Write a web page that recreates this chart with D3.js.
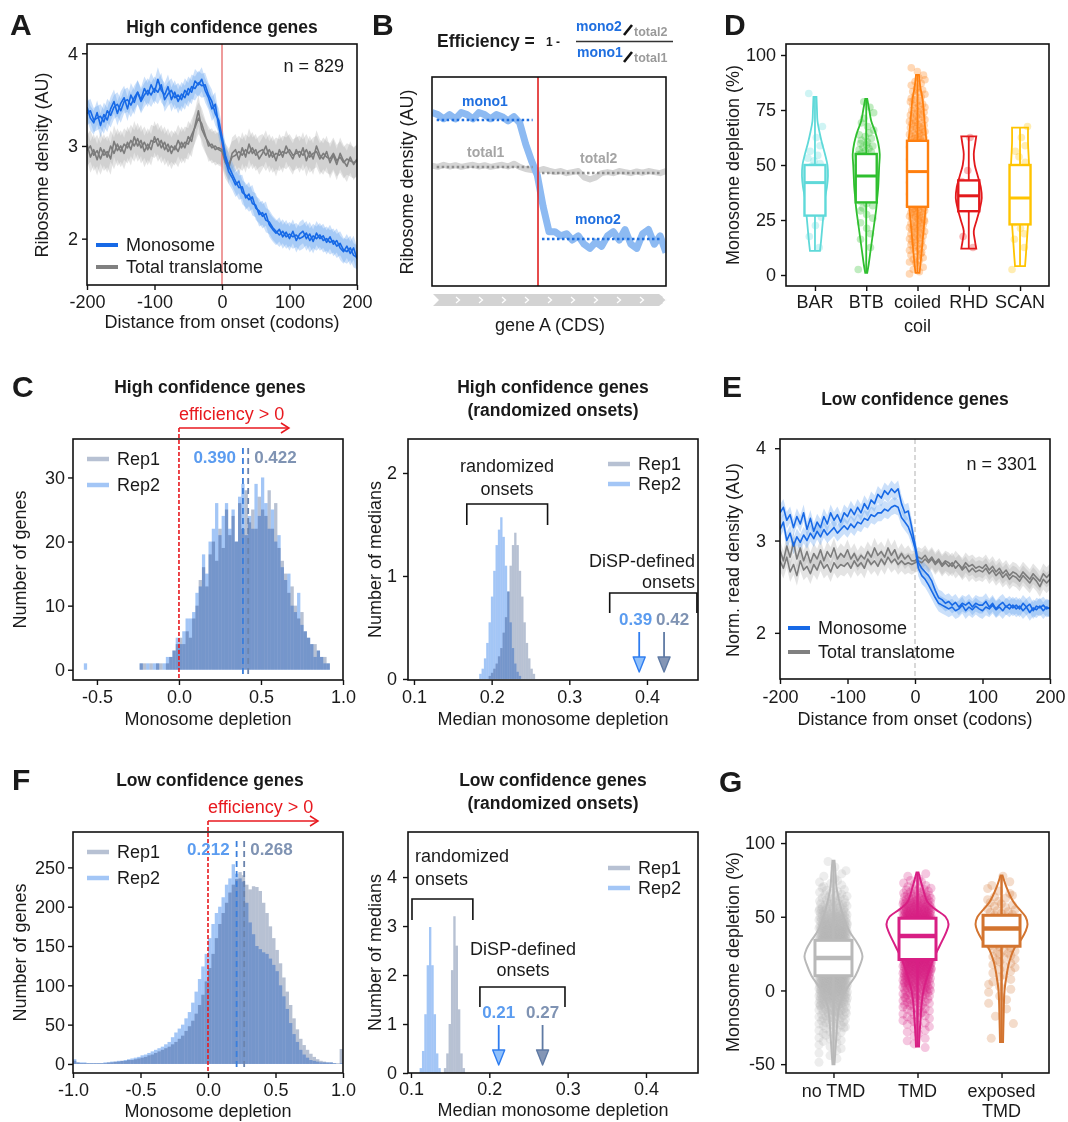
<!DOCTYPE html>
<html>
<head>
<meta charset="utf-8">
<script src="https://cdnjs.cloudflare.com/ajax/libs/d3/7.8.5/d3.min.js"></script>
<style>
  body { margin: 0; background: #fff; }
  svg text { font-family: "Liberation Sans", Arial, sans-serif; }
</style>
</head>
<body>
<svg id="fig" width="1068" height="1122"></svg>
<script>
// ---------------- data ----------------
const codons = d3.range(-200, 201, 5);

// A: high confidence profiles (two replicates each)
const monoA1 = [3.42, 3.30, 3.25, 3.36, 3.22, 3.34, 3.28, 3.40, 3.48, 3.35,
                3.46, 3.52, 3.40, 3.55, 3.47, 3.58, 3.50, 3.62, 3.55, 3.66,
                3.58, 3.72, 3.60, 3.55, 3.64, 3.50, 3.58, 3.48, 3.56, 3.52,
                3.62, 3.58, 3.70, 3.66, 3.72, 3.60, 3.52, 3.40, 3.45, 3.22,
                3.05, 2.85, 2.72, 2.66, 2.58, 2.62, 2.50, 2.47, 2.42, 2.45,
                2.33, 2.30, 2.24, 2.27, 2.15, 2.10, 2.06, 2.10, 2.02, 2.07,
                2.00, 2.08, 1.98, 2.05, 2.08, 2.00, 2.05, 1.97, 2.06, 2.00,
                2.03, 1.96, 2.02, 1.94, 1.98, 1.90, 1.86, 1.92, 1.84, 1.90,
                1.78];
const monoA2 = [3.35, 3.38, 3.28, 3.30, 3.32, 3.26, 3.38, 3.33, 3.42, 3.45,
                3.38, 3.48, 3.50, 3.44, 3.52, 3.58, 3.48, 3.55, 3.60, 3.55,
                3.62, 3.58, 3.66, 3.50, 3.56, 3.60, 3.52, 3.55, 3.50, 3.60,
                3.55, 3.64, 3.62, 3.68, 3.65, 3.66, 3.55, 3.48, 3.35, 3.28,
                3.10, 2.90, 2.78, 2.70, 2.62, 2.55, 2.56, 2.44, 2.48, 2.38,
                2.36, 2.26, 2.28, 2.20, 2.18, 2.12, 2.08, 2.04, 2.08, 2.02,
                2.05, 2.02, 2.04, 2.00, 2.02, 2.06, 1.98, 2.03, 2.00, 2.04,
                1.98, 2.00, 1.96, 1.98, 1.92, 1.95, 1.88, 1.86, 1.90, 1.82,
                1.80];
const totA1 = [3.02, 2.88, 2.96, 2.85, 2.98, 2.90, 2.94, 2.86, 3.05, 2.95,
               3.00, 2.92, 3.04, 2.96, 3.10, 3.00, 3.06, 2.94, 3.02, 2.96,
               3.10, 3.00, 3.06, 2.96, 3.02, 2.92, 3.00, 2.94, 3.04, 2.98,
               3.10, 3.05, 3.22, 3.38, 3.18, 3.10, 3.04, 2.98, 3.00, 2.96,
               2.94, 2.82, 2.76, 2.92, 2.96, 2.85, 2.98, 2.88, 3.02, 2.92,
               2.96, 2.86, 2.92, 3.00, 2.88, 2.94, 2.84, 2.96, 2.88, 3.00,
               2.92, 2.86, 2.96, 2.88, 2.98, 2.84, 2.94, 2.86, 3.00, 2.90,
               2.86, 2.94, 2.82, 2.90, 2.80, 2.92, 2.84, 2.78, 2.88, 2.80,
               2.86];
const totA2 = [2.95, 3.00, 2.90, 2.95, 2.86, 2.96, 2.88, 3.00, 2.92, 3.02,
               2.94, 3.02, 2.98, 3.06, 3.00, 3.08, 2.98, 3.04, 2.96, 3.06,
               3.04, 3.08, 2.98, 3.04, 2.94, 3.00, 2.96, 3.06, 2.98, 3.04,
               3.02, 3.12, 3.20, 3.30, 3.24, 3.12, 3.00, 3.02, 2.96, 2.98,
               2.96, 2.86, 2.80, 2.88, 2.90, 2.94, 2.90, 2.96, 2.92, 2.98,
               2.90, 2.94, 2.96, 2.90, 2.96, 2.88, 2.92, 2.90, 2.94, 2.92,
               2.96, 2.90, 2.92, 2.94, 2.90, 2.96, 2.88, 2.92, 2.94, 2.86,
               2.92, 2.88, 2.86, 2.92, 2.84, 2.88, 2.82, 2.86, 2.84, 2.82,
               2.84];
const semMonoA = 0.13, semTotA = 0.17;

// E: low confidence profiles
const monoE1 = [3.30, 3.36, 3.22, 3.28, 3.14, 3.26, 3.18, 3.30, 3.12, 3.24,
                3.10, 3.20, 3.14, 3.26, 3.18, 3.30, 3.22, 3.28, 3.20, 3.30,
                3.26, 3.34, 3.28, 3.36, 3.30, 3.40, 3.34, 3.44, 3.40, 3.50,
                3.46, 3.54, 3.50, 3.56, 3.52, 3.56, 3.40, 3.30, 3.32, 3.15,
                2.96, 2.76, 2.70, 2.66, 2.62, 2.56, 2.46, 2.38, 2.36, 2.32,
                2.34, 2.30, 2.33, 2.28, 2.32, 2.30, 2.33, 2.28, 2.32, 2.30,
                2.30, 2.34, 2.28, 2.32, 2.26, 2.30, 2.33, 2.28, 2.31, 2.27,
                2.30, 2.26, 2.32, 2.28, 2.31, 2.24, 2.29, 2.27, 2.30, 2.26,
                2.27];
const monoE2 = [3.12, 3.20, 3.00, 3.08, 2.94, 3.04, 2.98, 3.06, 3.00, 3.08,
                3.02, 3.10, 3.04, 3.12, 3.06, 3.10, 3.14, 3.08, 3.12, 3.16,
                3.12, 3.18, 3.14, 3.20, 3.18, 3.24, 3.22, 3.28, 3.26, 3.30,
                3.30, 3.34, 3.32, 3.36, 3.38, 3.36, 3.25, 3.20, 3.15, 3.05,
                2.92, 2.70, 2.62, 2.58, 2.52, 2.45, 2.38, 2.32, 2.30, 2.28,
                2.26, 2.28, 2.24, 2.26, 2.30, 2.24, 2.28, 2.25, 2.29, 2.26,
                2.24, 2.28, 2.26, 2.30, 2.25, 2.28, 2.24, 2.29, 2.26, 2.30,
                2.26, 2.29, 2.24, 2.28, 2.22, 2.27, 2.25, 2.29, 2.24, 2.28,
                2.26];
const totE1 = [2.90, 2.78, 2.94, 2.82, 2.98, 2.80, 2.92, 2.78, 2.88, 2.76,
               2.86, 2.80, 2.90, 2.78, 2.88, 2.82, 2.92, 2.80, 2.86, 2.82,
               2.90, 2.80, 2.86, 2.78, 2.84, 2.80, 2.88, 2.82, 2.92, 2.84,
               2.88, 2.82, 2.92, 2.84, 2.90, 2.80, 2.86, 2.80, 2.84, 2.78,
               2.78, 2.82, 2.80, 2.84, 2.78, 2.82, 2.76, 2.80, 2.74, 2.78,
               2.76, 2.72, 2.78, 2.74, 2.70, 2.76, 2.72, 2.74, 2.70, 2.72,
               2.70, 2.74, 2.68, 2.72, 2.66, 2.70, 2.64, 2.68, 2.62, 2.66,
               2.64, 2.60, 2.66, 2.62, 2.58, 2.64, 2.60, 2.56, 2.64, 2.60,
               2.64];
const totE2 = [2.78, 2.70, 2.82, 2.66, 2.74, 2.62, 2.78, 2.68, 2.72, 2.64,
               2.74, 2.68, 2.78, 2.70, 2.74, 2.66, 2.76, 2.70, 2.74, 2.72,
               2.76, 2.70, 2.78, 2.72, 2.76, 2.70, 2.80, 2.74, 2.78, 2.72,
               2.80, 2.74, 2.82, 2.76, 2.80, 2.74, 2.78, 2.74, 2.76, 2.74,
               2.76, 2.78, 2.76, 2.80, 2.76, 2.80, 2.74, 2.78, 2.72, 2.76,
               2.72, 2.76, 2.70, 2.74, 2.68, 2.72, 2.66, 2.70, 2.66, 2.68,
               2.66, 2.70, 2.64, 2.68, 2.62, 2.66, 2.60, 2.64, 2.58, 2.62,
               2.60, 2.56, 2.62, 2.58, 2.54, 2.60, 2.56, 2.50, 2.58, 2.54,
               2.58];
const semMonoE = 0.09, semTotE = 0.11;

// B: schematic gene profile
const posB = d3.range(0, 1.0001, 0.025);
const monoB = [0.83, 0.82, 0.80, 0.82, 0.80, 0.83, 0.82, 0.80, 0.83, 0.82,
               0.80, 0.82, 0.81, 0.79, 0.81, 0.78, 0.68, 0.60, 0.53, 0.38,
               0.26, 0.26, 0.24, 0.25, 0.22, 0.24, 0.20, 0.18, 0.21, 0.19,
               0.24, 0.26, 0.22, 0.27, 0.20, 0.18, 0.25, 0.27, 0.20, 0.24,
               0.16];
const totB = [0.575, 0.570, 0.580, 0.572, 0.578, 0.570, 0.576, 0.580, 0.572, 0.578,
              0.570, 0.575, 0.580, 0.572, 0.585, 0.570, 0.560, 0.555, 0.550, 0.560,
              0.552, 0.545, 0.550, 0.540, 0.545, 0.550, 0.520, 0.510, 0.520, 0.540,
              0.545, 0.540, 0.550, 0.545, 0.540, 0.548, 0.542, 0.550, 0.545, 0.540,
              0.550];
const levelNames = ["mono1", "total1", "mono2", "total2"];
const levelValues = [0.794, 0.569, 0.225, 0.541];
const levelFrom = [0.02, 0.02, 0.47, 0.47];
const levelTo = [0.43, 0.43, 0.98, 0.98];
const onsetB = 0.453;

// C: high confidence depletion histograms
const histHighStart = -0.60, histHighW = 0.02;
const histHighRep1 = [0, 0, 0, 0, 0, 0, 0, 0, 0, 0, 0, 0, 0, 0, 0, 0, 0, 0,
                      1, 1, 0, 1, 0, 1, 1, 0, 1, 2,
                      3, 4, 5, 4, 6, 5, 8, 10, 14, 16,
                      13, 18, 20, 17, 22, 19, 25, 21, 24, 20,
                      26, 22, 28, 23, 25, 22, 27, 25, 24, 28,
                      22, 26, 19, 17, 15, 12, 13, 10, 8, 9,
                      6, 5, 4, 4, 3, 2, 2, 1];
const histHighRep2 = [0, 1, 0, 0, 0, 0, 0, 0, 0, 0, 0, 0, 0, 0, 0, 0, 0, 0,
                      1, 0, 1, 0, 1, 1, 0, 1, 2, 2,
                      3, 5, 4, 6, 8, 8, 9, 12, 13, 18,
                      15, 20, 22, 26, 21, 24, 26, 22, 25, 20,
                      27, 29, 21, 24, 22, 29, 24, 30, 26, 22,
                      25, 20, 21, 16, 14, 15, 10, 9, 12, 7,
                      6, 5, 4, 2, 3, 2, 1, 1];
const medHigh = [0.422, 0.390];           // Rep1, Rep2
const randW = 0.003;
const randHighRep1Start = 0.196;
const randHighRep1 = [0.03, 0.06, 0.10, 0.15, 0.22, 0.30, 0.45, 0.60, 0.85, 1.10,
                      1.30, 1.42, 1.30, 1.05, 0.80, 0.55, 0.35, 0.20, 0.10, 0.05];
const randHighRep2Start = 0.184;
const randHighRep2 = [0.05, 0.10, 0.20, 0.35, 0.55, 0.80, 1.05, 1.30, 1.45, 1.57,
                      1.38, 1.10, 0.85, 0.55, 0.30, 0.15, 0.07, 0.03];

// F: low confidence depletion histograms
const histLowStart = -1.0, histLowW = 0.025;
const histLowRep1 = [4, 2, 1, 1, 1, 1, 1, 1, 1, 1,
                     2, 2, 3, 3, 4, 4, 5, 5, 6, 7,
                     8, 9, 11, 12, 14, 16, 18, 20, 22, 25,
                     28, 32, 36, 42, 48, 55, 64, 75, 88, 105,
                     122, 140, 160, 178, 192, 205, 218, 228, 235, 244,
                     240, 228, 222, 226, 225, 220, 205, 192, 175, 160,
                     145, 128, 110, 92, 75, 58, 44, 32, 24, 18,
                     13, 9, 6, 4, 3, 2, 2, 1, 1, 19];
const histLowRep2 = [6, 2, 2, 2, 1, 1, 1, 1, 1, 2,
                     2, 3, 3, 4, 4, 5, 6, 7, 8, 9,
                     11, 12, 14, 16, 18, 20, 22, 25, 28, 34,
                     40, 45, 50, 58, 66, 78, 92, 108, 124, 140,
                     160, 178, 192, 200, 212, 228, 236, 254, 242, 236,
                     232, 205, 180, 165, 150, 146, 142, 140, 134, 126,
                     118, 100, 86, 70, 52, 38, 28, 18, 12, 8,
                     5, 4, 3, 2, 2, 2, 2, 1, 0, 1];
const medLow = [0.268, 0.212];
const randLowRep1Start = 0.142;
const randLowRep1 = [0.10, 0.40, 1.00, 2.10, 3.20, 2.60, 1.30, 0.40, 0.10];
const randLowRep2Start = 0.111;
const randLowRep2 = [0.10, 0.45, 1.20, 2.20, 2.98, 2.20, 1.20, 0.40, 0.10];

// D: domain families (%)
const domNames = ["BAR", "BTB", "coiled\ncoil", "RHD", "SCAN"];
const domColors = ["#5fd9d9", "#2fbf2f", "#ff7f0e", "#e3191c", "#ffc400"];
const domQ1 = [27, 33, 31, 29, 23];
const domMed = [42, 45, 47, 36, 35];
const domQ3 = [50, 55, 61, 43, 50];
const domMin = [11, 1, 1, 12, 4];
const domMax = [81, 80, 91, 63, 67];
const violinBAR = [[11, 5], [15, 6], [20, 7], [25, 8], [30, 9], [35, 10], [40, 12], [45, 13], [50, 12.5], [55, 10], [60, 7], [65, 4.5], [70, 2.5], [75, 2], [81, 1.5]];
const violinBTB = [[1, 1], [5, 2.5], [10, 4], [15, 5.5], [20, 7], [25, 8.5], [30, 10], [35, 11], [40, 12], [45, 12.5], [50, 13], [55, 13.5], [60, 12], [65, 9], [70, 5], [75, 3], [80, 1]];
const violinCC = [[1, 2], [5, 3], [10, 4], [20, 6], [30, 8], [40, 9], [50, 10], [60, 9], [70, 7], [80, 5], [85, 3], [91, 1.5]];
const violinRHD = [[12, 7.5], [16, 6], [20, 5], [25, 8], [30, 11], [35, 13], [40, 12], [45, 9], [50, 6], [55, 5], [60, 6.5], [63, 7.5]];
const violinSCAN = [[4, 5], [10, 6], [20, 7.5], [30, 9], [40, 9.5], [50, 9], [60, 8], [67, 8]];
const domBinStart = 0, domBinW = 5;   // point counts per 5 % bin
const countsBAR = [0, 0, 1, 1, 1, 2, 2, 1, 3, 4, 4, 2, 1, 1, 0, 0, 1, 0, 0];
const countsBTB = [1, 0, 1, 2, 2, 3, 5, 6, 8, 10, 11, 9, 6, 3, 2, 2, 0, 0, 0];
const countsCC = [5, 8, 10, 12, 14, 16, 18, 20, 21, 21, 20, 18, 16, 14, 12, 10, 8, 6, 3];
const countsRHD = [0, 0, 1, 1, 0, 0, 2, 2, 1, 1, 0, 0, 1, 0, 0, 0, 0, 0, 0];
const countsSCAN = [1, 0, 1, 2, 2, 2, 1, 2, 1, 2, 2, 2, 1, 1, 0, 0, 0, 0, 0];

// G: TMD groups (%)
const tmdNames = ["no TMD", "TMD", "exposed\nTMD"];
const tmdColors = ["#b9b9b9", "#d81f84", "#d3742f"];
const tmdQ1 = [10, 21, 30];
const tmdMed = [22, 37, 42];
const tmdQ3 = [34, 49, 51];
const tmdMin = [-50, -38, -35];
const tmdMax = [88, 80, 78];
const violinNo = [[-50, 1], [-40, 2], [-30, 3], [-20, 4], [-10, 6], [0, 12], [10, 22], [18, 27], [23, 29], [28, 27], [34, 22], [40, 16], [50, 10], [60, 6], [70, 3], [80, 2], [88, 1]];
const violinTMD = [[-38, 1.5], [-30, 2], [-20, 3], [-10, 4], [0, 6], [10, 10], [20, 15], [30, 22], [40, 29], [45, 31], [50, 28], [55, 18], [60, 10], [70, 5], [80, 1]];
const violinExp = [[-35, 1.5], [-20, 2], [0, 3], [10, 5], [20, 8], [30, 14], [35, 20], [40, 24], [45, 26], [50, 24], [55, 18], [60, 12], [70, 5], [78, 1]];
const tmdBinStart = -50, tmdBinW = 5;
const countsNo = [2, 3, 4, 6, 8, 12, 16, 22, 30, 38, 46, 54, 60, 64, 66, 64, 58, 50, 42, 34, 26, 18, 12, 8, 5, 3, 2, 1];
const countsTMD = [0, 0, 2, 3, 4, 6, 8, 10, 14, 18, 24, 30, 38, 46, 54, 60, 64, 66, 62, 54, 42, 30, 20, 12, 6, 3, 0, 0];
const countsExp = [0, 0, 0, 1, 0, 1, 1, 1, 2, 2, 3, 3, 4, 5, 6, 7, 9, 10, 11, 10, 8, 6, 5, 3, 2, 1, 0, 0];

// ---------------- drawing ----------------
const FONT = '"Liberation Sans", Arial, sans-serif';
const INK = "#1a1a1a";
const BLUE = "#1769e6", BLUE_BAND = "#5c9ff0";
const GREY = "#7c7c7c", GREY_BAND = "#ababab";
const REP1 = "#b7c1d3", REP2 = "#a3c6f6";
const REP1_TXT = "#7f93b3", REP2_TXT = "#5b9cf0";
const svg = d3.select("#fig");
const defs = svg.append("defs");
let clipCount = 0;

function text(x, y, str, o = {}) {
  const t = svg.append("text").attr("x", x).attr("y", y).text(str)
    .attr("font-size", o.size || 18)
    .attr("fill", o.color || INK)
    .attr("text-anchor", o.anchor || "start");
  if (o.bold) t.attr("font-weight", "bold");
  if (o.rotate) t.attr("dy", "0.35em").attr("transform", `rotate(-90,${x},${y})`);
  return t;
}

function clipFor(p) {
  const id = "clip" + (clipCount++);
  defs.append("clipPath").attr("id", id).append("rect")
    .attr("x", p.l).attr("y", p.t).attr("width", p.r - p.l).attr("height", p.b - p.t);
  return svg.append("g").attr("clip-path", `url(#${id})`);
}

function frame(p) {
  const g = svg.append("g");
  const ax = g.append("g").attr("transform", `translate(0,${p.b})`)
    .call(d3.axisBottom(p.x).tickValues(p.xt).tickFormat(p.xf).tickSize(5).tickPadding(p.xpad || 5).tickSizeOuter(0));
  const ay = g.append("g").attr("transform", `translate(${p.l},0)`)
    .call(d3.axisLeft(p.y).tickValues(p.yt).tickFormat(p.yf).tickSize(5).tickPadding(p.ypad || 3).tickSizeOuter(0));
  g.selectAll(".domain").remove();
  g.selectAll("g").attr("font-family", FONT);
  g.selectAll(".tick line").attr("stroke", "#111").attr("stroke-width", 1.4);
  g.selectAll(".tick text").attr("font-size", 18).attr("fill", INK);
  g.append("rect").attr("x", p.l).attr("y", p.t).attr("width", p.r - p.l).attr("height", p.b - p.t)
    .attr("fill", "none").attr("stroke", "#111").attr("stroke-width", 1.6);
  return ax;
}

function legendLine(x, y, label, color, w) {
  svg.append("line").attr("x1", x).attr("x2", x + 22).attr("y1", y).attr("y2", y)
    .attr("stroke", color).attr("stroke-width", w || 4);
  text(x + 30, y + 6, label);
}

// ---- profile panels (A, E) ----
function profilePanel(p, series, onsetStyle) {
  p.x = d3.scaleLinear().domain([-200, 200]).range([p.l, p.r]);
  p.y = d3.scaleLinear().domain([1.5, 4.1]).range([p.b, p.t]);
  p.xt = [-200, -100, 0, 100, 200]; p.xf = d => String(d);
  p.yt = [2, 3, 4]; p.yf = d => String(d);
  const g = clipFor(p);
  series.forEach(s => {
    const area = d3.area().x((d, i) => p.x(codons[i])).y0(d => p.y(d - s.sem)).y1(d => p.y(d + s.sem));
    g.append("path").datum(s.vals).attr("d", area).attr("fill", s.band).attr("opacity", 0.32);
  });
  const on = g.append("line").attr("x1", p.x(0)).attr("x2", p.x(0)).attr("y1", p.t).attr("y2", p.b)
    .attr("stroke", onsetStyle.color).attr("stroke-width", 1.5);
  if (onsetStyle.dash) on.attr("stroke-dasharray", onsetStyle.dash);
  const line = d3.line().x((d, i) => p.x(codons[i])).y(d => p.y(d));
  series.forEach(s => {
    g.append("path").datum(s.vals).attr("d", line).attr("fill", "none")
      .attr("stroke", s.color).attr("stroke-width", 1.6).attr("stroke-linejoin", "round");
  });
  frame(p);
}

// Panel A
const pA = { l: 87, r: 357, t: 44, b: 285, ypad: 4 };
profilePanel(pA, [
  { vals: totA1, sem: semTotA, color: GREY, band: GREY_BAND },
  { vals: totA2, sem: semTotA, color: GREY, band: GREY_BAND },
  { vals: monoA1, sem: semMonoA, color: BLUE, band: BLUE_BAND },
  { vals: monoA2, sem: semMonoA, color: BLUE, band: BLUE_BAND }
], { color: "#e97a7a" });
text(10, 35, "A", { size: 30, bold: true });
text(222, 33, "High confidence genes", { size: 17.5, bold: true, anchor: "middle" });
text(222, 328, "Distance from onset (codons)", { anchor: "middle" });
text(42, 165, "Ribosome density (AU)", { anchor: "middle", rotate: true });
text(344, 72, "n = 829", { anchor: "end" });
legendLine(96, 245, "Monosome", BLUE);
legendLine(96, 267, "Total translatome", "#808080");

// Panel E
const pE = { l: 780, r: 1050, t: 439, b: 679, xpad: 6, ypad: 9 };
profilePanel(pE, [
  { vals: totE1, sem: semTotE, color: GREY, band: GREY_BAND },
  { vals: totE2, sem: semTotE, color: GREY, band: GREY_BAND },
  { vals: monoE1, sem: semMonoE, color: BLUE, band: BLUE_BAND },
  { vals: monoE2, sem: semMonoE, color: BLUE, band: BLUE_BAND }
], { color: "#cccccc", dash: "5,3" });
text(722, 397, "E", { size: 30, bold: true });
text(915, 405, "Low confidence genes", { size: 17.5, bold: true, anchor: "middle" });
text(915, 725, "Distance from onset (codons)", { anchor: "middle" });
text(733, 560, "Norm. read density (AU)", { anchor: "middle", rotate: true });
text(1037, 470, "n = 3301", { anchor: "end" });
legendLine(788, 628, "Monosome", BLUE);
legendLine(788, 652, "Total translatome", "#808080");

// ---- Panel B (schematic) ----
(function () {
  const p = { l: 432, r: 666, t: 77, b: 286 };
  const x = d3.scaleLinear().domain([0, 1]).range([p.l, p.r]);
  const y = d3.scaleLinear().domain([0, 1]).range([p.b, p.t]);
  const g = clipFor(p);
  const line = d3.line().x((d, i) => x(posB[i])).y(d => y(d));
  g.append("path").datum(totB).attr("d", line).attr("fill", "none")
    .attr("stroke", "#d4d4d4").attr("stroke-width", 6).attr("stroke-linejoin", "round");
  g.append("path").datum(monoB).attr("d", line).attr("fill", "none")
    .attr("stroke", "#8dbaf2").attr("stroke-width", 7).attr("stroke-linejoin", "round");
  levelNames.forEach((n, i) => {
    const isMono = n.startsWith("mono");
    g.append("line").attr("x1", x(levelFrom[i])).attr("x2", x(levelTo[i]))
      .attr("y1", y(levelValues[i])).attr("y2", y(levelValues[i]))
      .attr("stroke", isMono ? "#1f6fe0" : "#8d8d8d").attr("stroke-width", 2.5)
      .attr("stroke-dasharray", "2.5,2.5");
  });
  g.append("line").attr("x1", x(onsetB)).attr("x2", x(onsetB)).attr("y1", p.t).attr("y2", p.b)
    .attr("stroke", "#e02020").attr("stroke-width", 1.6);
  svg.append("rect").attr("x", p.l).attr("y", p.t).attr("width", p.r - p.l).attr("height", p.b - p.t)
    .attr("fill", "none").attr("stroke", "#111").attr("stroke-width", 1.6);

  text(462, 106, "mono1", { size: 14, bold: true, color: "#1f6fe0" });
  text(467, 157, "total1", { size: 14, bold: true, color: "#a5a5a5" });
  text(580, 163, "total2", { size: 14, bold: true, color: "#a5a5a5" });
  text(575, 224, "mono2", { size: 14, bold: true, color: "#1f6fe0" });

  // gene arrow
  svg.append("path").attr("d", `M${p.l + 1},294 L${p.r - 7},294 L${p.r + 1},300 L${p.r - 7},306 L${p.l + 1},306 L${p.l + 7},300 Z`)
    .attr("fill", "#d3d3d3");
  d3.range(0, 10).forEach(k => {
    const cx = 458 + k * 23;
    svg.append("path").attr("d", `M${cx - 2},297 L${cx + 1.5},300 L${cx - 2},303`)
      .attr("fill", "none").attr("stroke", "#fff").attr("stroke-width", 1.3);
  });
  text(550, 331, "gene A (CDS)", { anchor: "middle" });
  text(407, 182, "Ribosome density (AU)", { anchor: "middle", rotate: true });
  text(372, 35, "B", { size: 30, bold: true });

  // formula
  text(437, 47, "Efficiency =", { size: 17.5, bold: true });
  text(546, 46, "1 -", { size: 12, bold: true });
  svg.append("line").attr("x1", 576).attr("x2", 673).attr("y1", 41.5).attr("y2", 41.5)
    .attr("stroke", "#333").attr("stroke-width", 1.5);
  text(576, 31, "mono2", { size: 14, bold: true, color: "#1f6fe0" });
  text(577, 57, "mono1", { size: 14, bold: true, color: "#1f6fe0" });
  [[35, 25], [62, 52]].forEach(([y1, y2]) => {
    svg.append("line").attr("x1", 624).attr("x2", 632).attr("y1", y1).attr("y2", y2)
      .attr("stroke", "#111").attr("stroke-width", 2.6);
  });
  text(634, 36, "total2", { size: 12.5, bold: true, color: "#9a9a9a" });
  text(634, 62, "total1", { size: 12.5, bold: true, color: "#9a9a9a" });
})();

// ---- histogram helpers ----
function hist(g, x, y, start, w, counts, color) {
  g.selectAll(null).data(counts.map((c, i) => ({ c, i })).filter(d => d.c > 0)).join("rect")
    .attr("x", d => x(start + d.i * w))
    .attr("width", d => x(start + (d.i + 1) * w) - x(start + d.i * w))
    .attr("y", d => y(d.c)).attr("height", d => y(0) - y(d.c))
    .attr("fill", color).style("mix-blend-mode", "multiply");
}

function depletionPanel(p, r1, r2, start, w, med, labelY, letter, title, xlab) {
  const g = clipFor(p);
  hist(g, p.x, p.y, start, w, r1, REP1);
  hist(g, p.x, p.y, start, w, r2, REP2);
  [[med[1], "#3b7fdc"], [med[0], "#6b84ad"]].forEach(([m, c]) => {
    svg.append("line").attr("x1", p.x(m)).attr("x2", p.x(m)).attr("y1", p.t + 9).attr("y2", p.b - 2)
      .attr("stroke", c).attr("stroke-width", 1.8).attr("stroke-dasharray", "6,4");
  });
  frame(p);
  // efficiency > 0 annotation
  const x0 = p.x(0), ya = p.t - 11;
  svg.append("line").attr("x1", x0).attr("x2", x0).attr("y1", ya).attr("y2", p.b)
    .attr("stroke", "#e8191f").attr("stroke-width", 1.6).attr("stroke-dasharray", "4,2");
  svg.append("line").attr("x1", x0).attr("x2", x0 + 110).attr("y1", ya).attr("y2", ya)
    .attr("stroke", "#e8191f").attr("stroke-width", 1.5);
  svg.append("path").attr("d", `M${x0 + 102},${ya - 5} L${x0 + 110},${ya} L${x0 + 102},${ya + 5}`)
    .attr("fill", "none").attr("stroke", "#e8191f").attr("stroke-width", 1.5);
  text(x0, ya - 8, "efficiency > 0", { color: "#e8191f" });
  text(p.x(med[1]) - 7, labelY, med[1].toFixed(3), { bold: true, color: REP2_TXT, anchor: "end", size: 17 });
  text(p.x(med[0]) + 6, labelY, med[0].toFixed(3), { bold: true, color: REP1_TXT, size: 17 });
  legendLine(87, p.t + 20, "Rep1", REP1, 4.5);
  legendLine(87, p.t + 46, "Rep2", REP2, 4.5);
  text(12, p.t - 42, letter, { size: 30, bold: true });
  text(210, p.t - 46, title, { size: 17.5, bold: true, anchor: "middle" });
  text(208, p.b + xlab, "Monosome depletion", { anchor: "middle" });
  text(20, (p.t + p.b) / 2, "Number of genes", { anchor: "middle", rotate: true });
}

function bracket(x0, x1, yt, yb) {
  svg.append("path").attr("d", `M${x0},${yb} L${x0},${yt} L${x1},${yt} L${x1},${yb}`)
    .attr("fill", "none").attr("stroke", "#111").attr("stroke-width", 1.6);
}

function downArrow(x, y0, y1, stroke, fill) {
  svg.append("line").attr("x1", x).attr("x2", x).attr("y1", y0).attr("y2", y1 - 14)
    .attr("stroke", stroke).attr("stroke-width", 1.8);
  svg.append("path").attr("d", `M${x - 6},${y1 - 15} L${x + 6},${y1 - 15} L${x},${y1} Z`)
    .attr("fill", fill).attr("stroke", stroke).attr("stroke-width", 1.4).attr("stroke-linejoin", "round");
}

function randomPanel(p, r1s, r1, r2s, r2, med, o) {
  const g = clipFor(p);
  hist(g, p.x, p.y, r1s, randW, r1, REP1);
  hist(g, p.x, p.y, r2s, randW, r2, REP2);
  frame(p);
  text(553, p.t - 46, o.title, { size: 17.5, bold: true, anchor: "middle" });
  text(553, p.t - 23, "(randomized onsets)", { size: 17.5, bold: true, anchor: "middle" });
  text(553, p.b + o.xlab, "Median monosome depletion", { anchor: "middle" });
  text(375, (p.t + p.b) / 2, "Number of medians", { anchor: "middle", rotate: true });
  legendLine(608, o.legY, "Rep1", REP1, 4.5);
  legendLine(608, o.legY + 20, "Rep2", REP2, 4.5);
  // annotations
  text(o.randX, o.randY, "randomized", { anchor: o.randAnchor });
  text(o.randX, o.randY + 23, "onsets", { anchor: o.randAnchor });
  bracket(p.x(o.randBr[0]), p.x(o.randBr[1]), o.randBrY, o.randBrY + 21);
  text(o.dispX, o.dispY, "DiSP-defined", { anchor: o.dispAnchor });
  text(o.dispX, o.dispY + 21, "onsets", { anchor: o.dispAnchor });
  bracket(p.x(o.dispBr[0]), p.x(o.dispBr[1]), o.dispBrY, o.dispBrY + 20);
  text(p.x(med[1]) + o.labShift[1], o.arrowY - 7, med[1].toFixed(2),
    { bold: true, color: REP2_TXT, anchor: o.labAnchor[1], size: 17 });
  text(p.x(med[0]) + o.labShift[0], o.arrowY - 7, med[0].toFixed(2),
    { bold: true, color: REP1_TXT, anchor: o.labAnchor[0], size: 17 });
  downArrow(p.x(med[1]), o.arrowY, o.arrowY + 40, "#2f7df0", "#8fc0fb");
  downArrow(p.x(med[0]), o.arrowY, o.arrowY + 40, "#5f7aa4", "#8496b6");
}

// Panel C
const pC1 = { l: 73, r: 343, t: 439, b: 680 };
pC1.x = d3.scaleLinear().domain([-0.646, 1.0]).range([pC1.l, pC1.r]);
pC1.y = d3.scaleLinear().domain([-1.6, 36]).range([pC1.b, pC1.t]);
pC1.xt = [-0.5, 0, 0.5, 1.0]; pC1.xf = d => d.toFixed(1);
pC1.yt = [0, 10, 20, 30]; pC1.yf = d => String(d);
depletionPanel(pC1, histHighRep1, histHighRep2, histHighStart, histHighW, medHigh, 463, "C", "High confidence genes", 45);

const pC2 = { l: 408, r: 698, t: 439, b: 680, ypad: 6 };
pC2.x = d3.scaleLinear().domain([0.0923, 0.4657]).range([pC2.l, pC2.r]);
pC2.y = d3.scaleLinear().domain([-0.01, 2.33]).range([pC2.b, pC2.t]);
pC2.xt = [0.1, 0.2, 0.3, 0.4]; pC2.xf = d => d.toFixed(1);
pC2.yt = [0, 1, 2]; pC2.yf = d => String(d);
randomPanel(pC2, randHighRep1Start, randHighRep1, randHighRep2Start, randHighRep2, medHigh, {
  title: "High confidence genes", legY: 464, xlab: 45,
  randX: 507, randY: 472, randAnchor: "middle", randBr: [0.168, 0.272], randBrY: 504,
  dispX: 695, dispY: 567, dispAnchor: "end", dispBr: [0.352, 0.4643], dispBrY: 593,
  arrowY: 632, labShift: [-8, 13], labAnchor: ["start", "end"]
});

// Panel F
const pF1 = { l: 73, r: 343, t: 832, b: 1073, xpad: 5 };
pF1.x = d3.scaleLinear().domain([-1, 1]).range([pF1.l, pF1.r]);
pF1.y = d3.scaleLinear().domain([-11.5, 295]).range([pF1.b, pF1.t]);
pF1.xt = [-1, -0.5, 0, 0.5, 1]; pF1.xf = d => d.toFixed(1);
pF1.yt = [0, 50, 100, 150, 200, 250]; pF1.yf = d => String(d);
depletionPanel(pF1, histLowRep1, histLowRep2, histLowStart, histLowW, medLow, 855, "F", "Low confidence genes", 44);

const pF2 = { l: 408, r: 698, t: 832, b: 1073, xpad: 4, ypad: 6 };
pF2.x = d3.scaleLinear().domain([0.0962, 0.4664]).range([pF2.l, pF2.r]);
pF2.y = d3.scaleLinear().domain([0, 4.92]).range([pF2.b, pF2.t]);
pF2.xt = [0.1, 0.2, 0.3, 0.4]; pF2.xf = d => d.toFixed(1);
pF2.yt = [0, 1, 2, 3, 4]; pF2.yf = d => String(d);
randomPanel(pF2, randLowRep1Start, randLowRep1, randLowRep2Start, randLowRep2, medLow, {
  title: "Low confidence genes", legY: 868, xlab: 43,
  randX: 415, randY: 862, randAnchor: "start", randBr: [0.1013, 0.179], randBrY: 899,
  dispX: 523, dispY: 955, dispAnchor: "middle", dispBr: [0.188, 0.2966], dispBrY: 987,
  arrowY: 1025, labShift: [0, 0], labAnchor: ["middle", "middle"]
});

// ---- violin + box + strip panels (D, G) ----
function violinPanel(p, names, colors, q1, med, q3, mn, mx, violins, counts, binStart, binW, o) {
  p.x = d3.scalePoint().domain(names).range([p.l, p.r]).padding(0.565);
  p.xt = names; p.xf = () => "";
  const wScale = d3.scaleLinear().domain([0, 1]).range([0, 1]);
  const g = clipFor(p);
  names.forEach((n, i) => {
    const cx = p.x(n);
    const pts = [];
    counts[i].forEach((c, b) => {
      for (let k = 0; k < c; k++) {
        const v = binStart + b * binW + (k + 0.5) / c * binW;
        const j = ((k * 0.618034 + b * 0.381966) % 1) * 2 - 1;
        pts.push({ v, j });
      }
    });
    g.selectAll(null).data(pts).join("circle")
      .attr("cx", d => cx + d.j * o.jitter).attr("cy", d => p.y(d.v)).attr("r", o.r)
      .attr("fill", colors[i]).attr("opacity", o.op);
  });
  names.forEach((n, i) => {
    const cx = p.x(n), c = colors[i];
    const area = d3.area().curve(d3.curveCatmullRom.alpha(0.5))
      .y(d => p.y(d[0])).x0(d => cx - wScale(d[1])).x1(d => cx + wScale(d[1]));
    g.append("path").datum(violins[i]).attr("d", area).attr("fill", "none")
      .attr("stroke", c).attr("stroke-width", o.vw);
    g.append("line").attr("x1", cx).attr("x2", cx).attr("y1", p.y(mn[i])).attr("y2", p.y(q1[i]))
      .attr("stroke", c).attr("stroke-width", o.ww);
    g.append("line").attr("x1", cx).attr("x2", cx).attr("y1", p.y(q3[i])).attr("y2", p.y(mx[i]))
      .attr("stroke", c).attr("stroke-width", o.ww);
    g.append("rect").attr("x", cx - o.bw / 2).attr("width", o.bw)
      .attr("y", p.y(q3[i])).attr("height", p.y(q1[i]) - p.y(q3[i]))
      .attr("fill", "#fff").attr("stroke", c).attr("stroke-width", o.bs);
    g.append("line").attr("x1", cx - o.bw / 2).attr("x2", cx + o.bw / 2)
      .attr("y1", p.y(med[i])).attr("y2", p.y(med[i]))
      .attr("stroke", c).attr("stroke-width", o.ms);
  });
  frame(p);
  names.forEach(n => {
    const lines = n.split("\n");
    const t = svg.append("text").attr("x", p.x(n)).attr("y", p.b + o.lab1).attr("text-anchor", "middle")
      .attr("font-size", 18).attr("fill", INK);
    lines.forEach((s, k) => t.append("tspan").attr("x", p.x(n)).attr("dy", k === 0 ? 0 : o.lab2).text(s));
  });
}

// Panel D
const pD = { l: 786, r: 1049, t: 44, b: 286, ypad: 5 };
pD.y = d3.scaleLinear().domain([-5, 105]).range([pD.b, pD.t]);
pD.yt = [0, 25, 50, 75, 100]; pD.yf = d => String(d);
violinPanel(pD, domNames, domColors, domQ1, domMed, domQ3, domMin, domMax,
  [violinBAR, violinBTB, violinCC, violinRHD, violinSCAN],
  [countsBAR, countsBTB, countsCC, countsRHD, countsSCAN], domBinStart, domBinW,
  { jitter: 8, r: 3.8, op: 0.3, vw: 1.8, ww: 1.8, bw: 21, bs: 2.4, ms: 3, lab1: 22, lab2: 24 });
text(724, 35, "D", { size: 30, bold: true });
text(733, 165, "Monosome depletion (%)", { anchor: "middle", rotate: true });

// Panel G
const pG = { l: 786, r: 1049, t: 832, b: 1073, ypad: 6 };
pG.y = d3.scaleLinear().domain([-56, 107.5]).range([pG.b, pG.t]);
pG.yt = [-50, 0, 50, 100]; pG.yf = d => String(d);
violinPanel(pG, tmdNames, tmdColors, tmdQ1, tmdMed, tmdQ3, tmdMin, tmdMax,
  [violinNo, violinTMD, violinExp],
  [countsNo, countsTMD, countsExp], tmdBinStart, tmdBinW,
  { jitter: 14.5, r: 4.5, op: 0.25, vw: 2, ww: 2.5, bw: 37, bs: 3, ms: 4.5, lab1: 24, lab2: 20 });
text(719, 792, "G", { size: 30, bold: true });
text(733, 952, "Monosome depletion (%)", { anchor: "middle", rotate: true });
</script>
</body>
</html>
